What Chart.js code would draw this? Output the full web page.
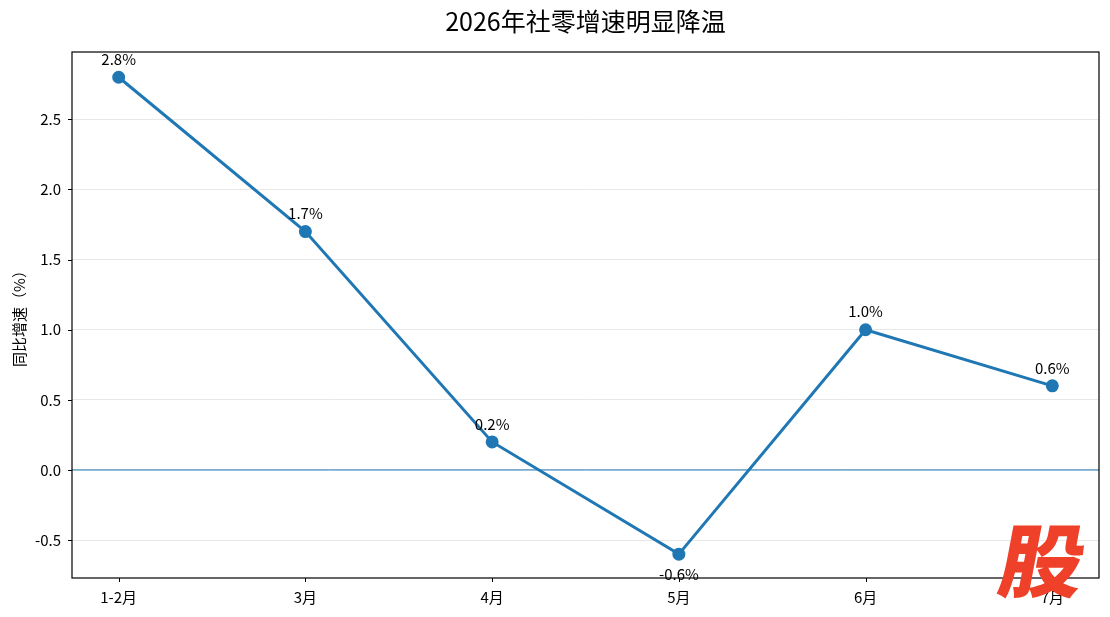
<!DOCTYPE html>
<html lang="zh">
<head>
    <meta charset="UTF-8">
    <title>2026年社零增速明显降温</title>
    <script src="https://cdn.jsdelivr.net/npm/chart.js@4"></script>
    <style>
        html, body { margin: 0; padding: 0; background: #fff; }
        #wrap { width: 1110px; height: 617px; }
    </style>
</head>
<body>
    <div id="wrap"><canvas id="chart" width="1110" height="617"></canvas></div>

    <script>
        // data
        const months = ["1-2月", "3月", "4月", "5月", "6月", "7月"];
        const growth = [2.8, 1.7, 0.2, -0.6, 1.0, 0.6];
        const yTicks = [-0.5, 0.0, 0.5, 1.0, 1.5, 2.0, 2.5];
        const chartTitle = "2026年社零增速明显降温";
        const yTitle = "同比增速（%）";

        const FONT = "'Noto Sans CJK SC', 'Noto Sans', sans-serif";
        const BLUE = "#1f77b4";

        // title, frame, tick marks, zero line, point labels, watermark
        const extras = {
            id: "extras",
            beforeDatasetsDraw(chart) {
                const { ctx, chartArea: a, scales } = chart;
                const y0 = scales.y.getPixelForValue(0);
                ctx.save();
                ctx.strokeStyle = BLUE;
                ctx.lineWidth = 1;
                ctx.beginPath();
                ctx.moveTo(a.left, y0);
                ctx.lineTo(a.right, y0);
                ctx.stroke();
                ctx.restore();
            },
            afterDraw(chart) {
                const { ctx, chartArea: a, scales } = chart;
                ctx.save();
                // frame
                ctx.strokeStyle = "#000";
                ctx.lineWidth = 1.2;
                ctx.strokeRect(a.left, a.top, a.right - a.left, a.bottom - a.top);
                // tick marks
                ctx.beginPath();
                yTicks.forEach(v => {
                    const py = Math.round(scales.y.getPixelForValue(v)) + 0.5;
                    ctx.moveTo(a.left - 4, py);
                    ctx.lineTo(a.left, py);
                });
                months.forEach((m, i) => {
                    const px = Math.round(scales.x.getPixelForValue(i)) + 0.5;
                    ctx.moveTo(px, a.bottom);
                    ctx.lineTo(px, a.bottom + 4);
                });
                ctx.lineWidth = 1;
                ctx.stroke();

                // title
                ctx.fillStyle = "#000";
                ctx.font = "25px " + FONT;
                ctx.textAlign = "center";
                ctx.textBaseline = "middle";
                ctx.fillText(chartTitle, (a.left + a.right) / 2, 21);

                // value labels
                ctx.font = "15px " + FONT;
                growth.forEach((v, i) => {
                    const px = scales.x.getPixelForValue(i);
                    const py = scales.y.getPixelForValue(v);
                    const dy = v < 0 ? 20 : -18;
                    ctx.fillText(v.toFixed(1) + "%", px, py + dy);
                });

                // watermark
                ctx.save();
                ctx.translate(1043, 561);
                ctx.transform(1, 0, -0.18, 0.95, 0, 0);
                ctx.fillStyle = "#ef4129";
                ctx.font = "900 84px " + FONT;
                ctx.fillText("股", 0, 0);
                ctx.restore();
                ctx.restore();
            }
        };

        new Chart(document.getElementById("chart"), {
            type: "line",
            data: {
                datasets: [{
                    data: growth.map((v, i) => ({ x: i, y: v })),
                    borderColor: BLUE,
                    backgroundColor: BLUE,
                    borderWidth: 3,
                    pointRadius: 5,
                    pointHoverRadius: 5,
                    tension: 0,
                    fill: false
                }]
            },
            options: {
                responsive: false,
                animation: false,
                layout: { padding: { top: 52, right: 11, left: 0, bottom: 0 } },
                plugins: {
                    legend: { display: false },
                    tooltip: { enabled: false }
                },
                scales: {
                    x: {
                        type: "linear",
                        min: -0.25,
                        max: 5.25,
                        afterBuildTicks: s => { s.ticks = months.map((m, i) => ({ value: i })); },
                        afterFit: s => { s.height = 39; },
                        border: { display: false },
                        grid: { display: false, drawTicks: false },
                        ticks: {
                            padding: 10,
                            color: "#000",
                            font: { family: FONT, size: 15 },
                            maxRotation: 0,
                            callback: v => months[v]
                        }
                    },
                    y: {
                        min: -0.77,
                        max: 2.98,
                        afterBuildTicks: s => { s.ticks = yTicks.map(v => ({ value: v })); },
                        afterFit: s => { s.width = 72; },
                        border: { display: false },
                        grid: { color: "#e8e8e8", lineWidth: 1, drawTicks: false },
                        ticks: {
                            padding: 11,
                            color: "#000",
                            font: { family: FONT, size: 15 },
                            callback: v => v.toFixed(1)
                        },
                        title: {
                            display: true,
                            text: yTitle,
                            color: "#000",
                            font: { family: FONT, size: 15 },
                            padding: { top: 10, bottom: 0 }
                        }
                    }
                }
            },
            plugins: [extras]
        });
    </script>
</body>
</html>
